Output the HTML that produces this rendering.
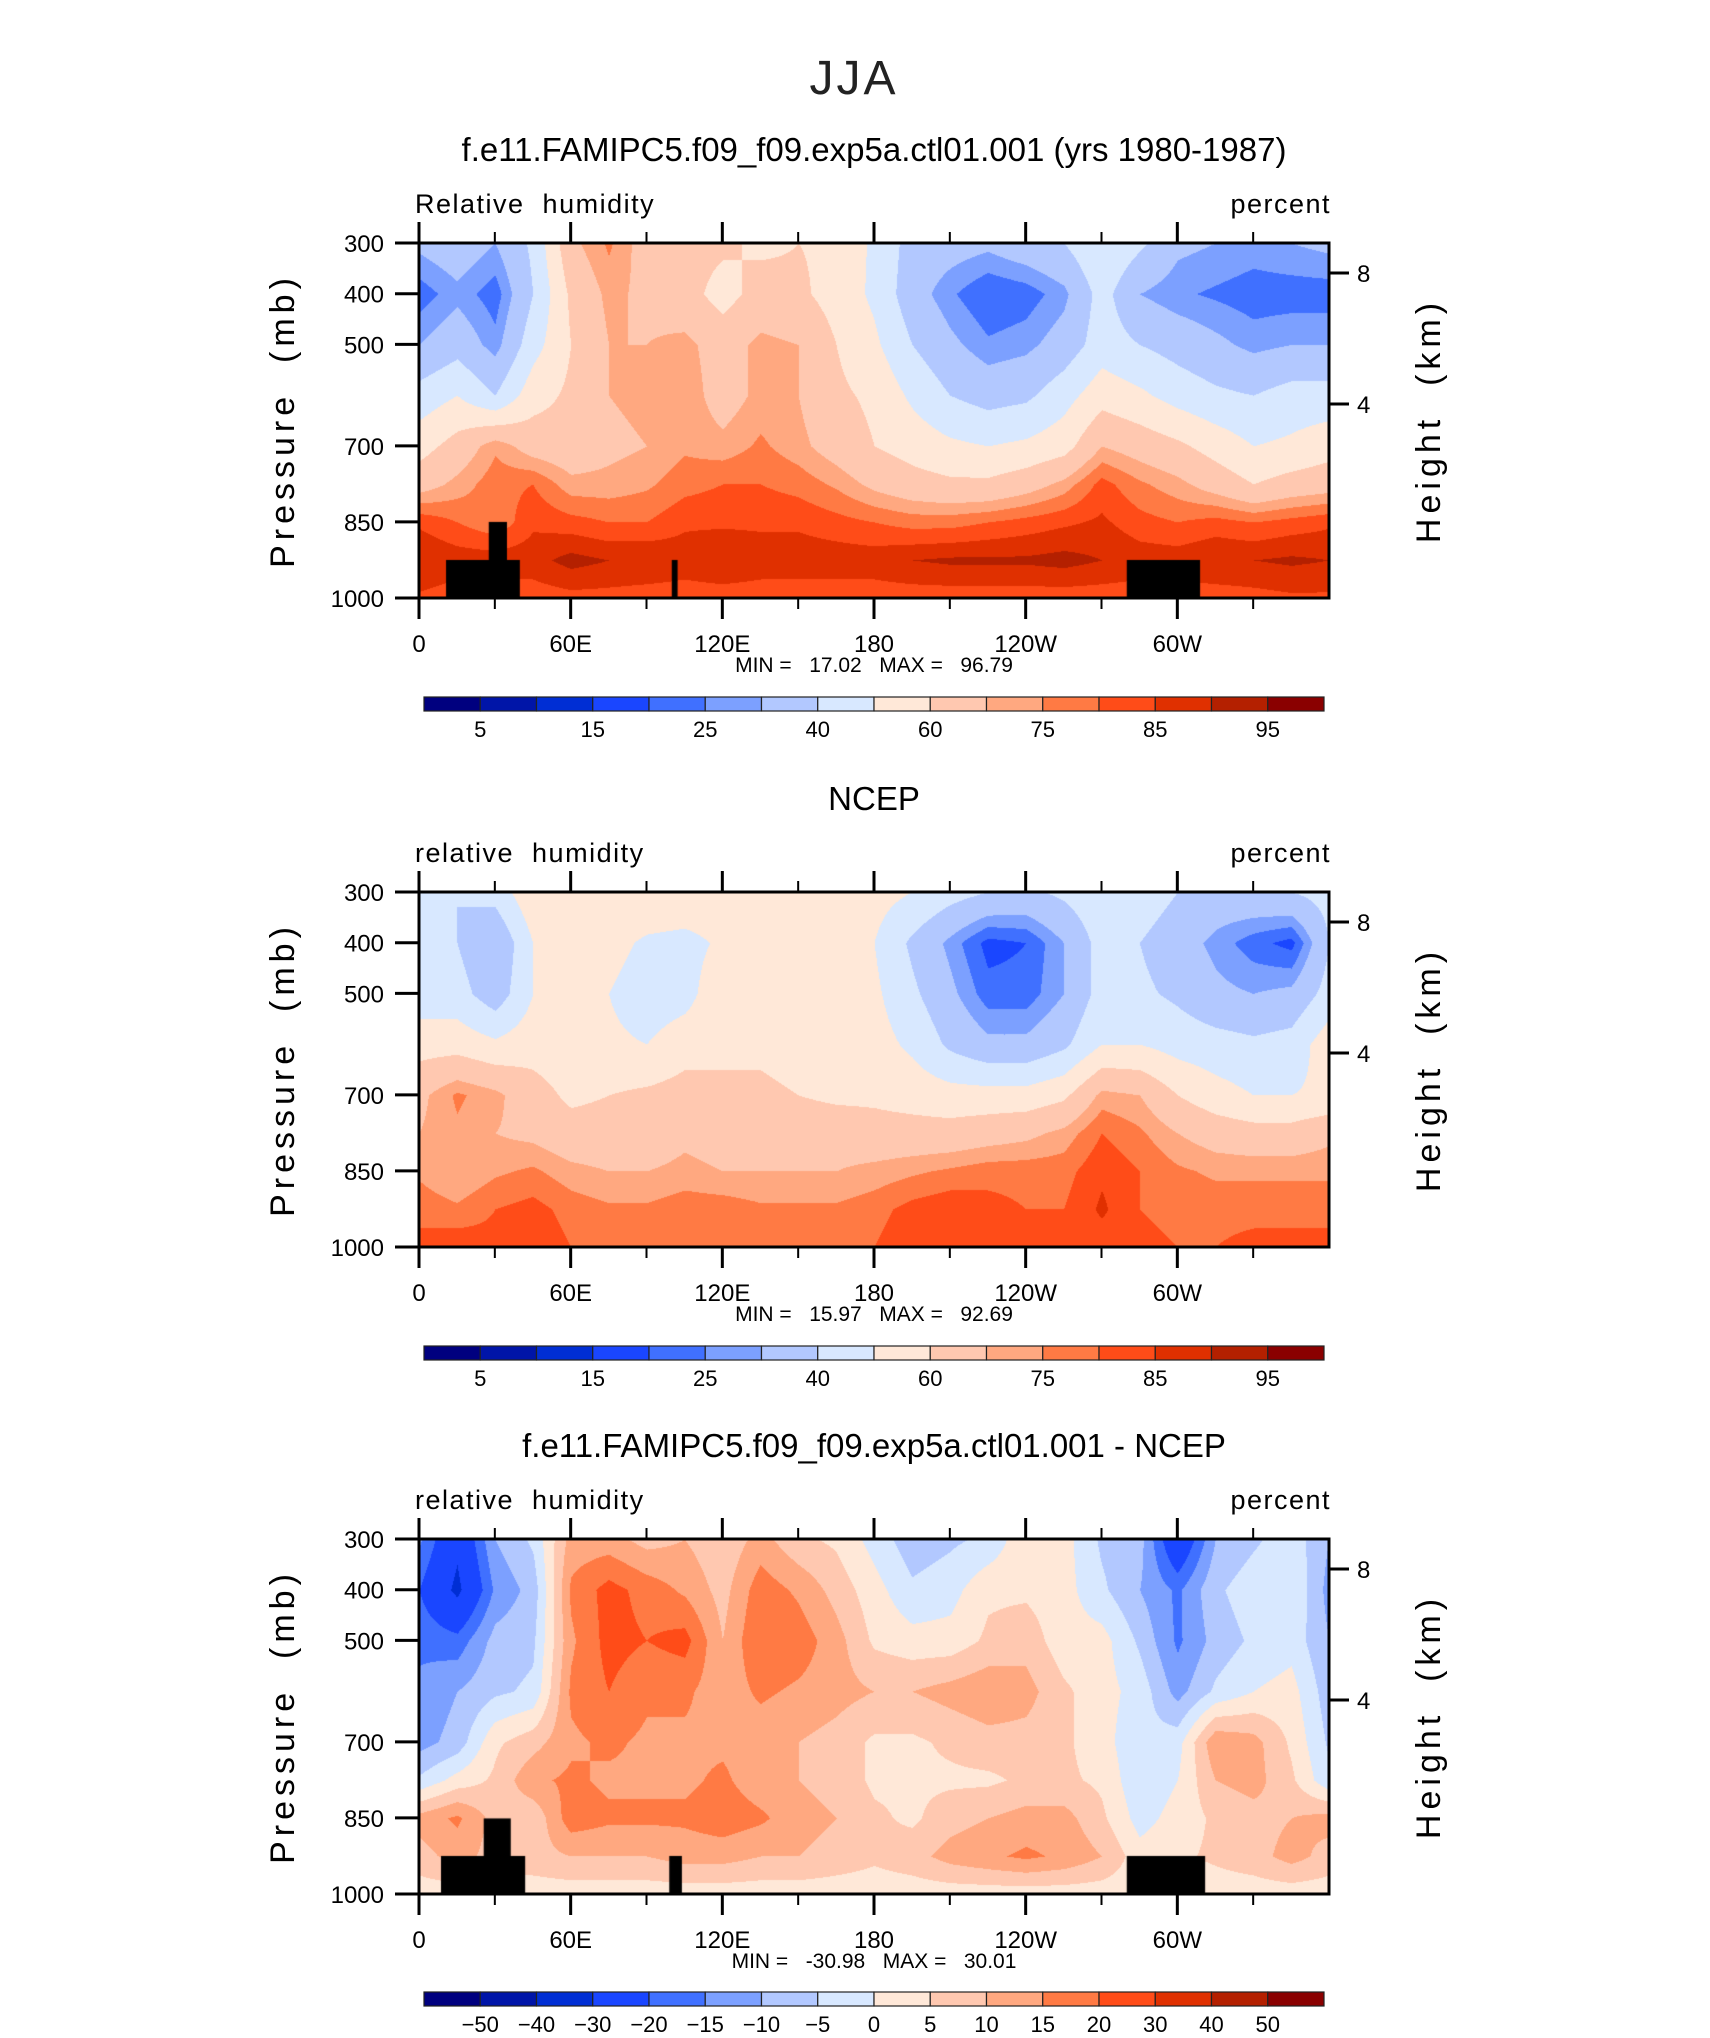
<!DOCTYPE html>
<html><head><meta charset="utf-8">
<style>
html,body{margin:0;padding:0;background:#fff;}
#root{position:relative;width:1710px;height:2038px;overflow:hidden;font-family:"Liberation Sans",sans-serif;}
canvas{position:absolute;}
svg{position:absolute;left:0;top:0;}
svg text{white-space:pre;}
</style></head>
<body>
<div id="root">
<canvas id="c0" width="910" height="355" style="left:419px;top:243px"></canvas>
<canvas id="c1" width="910" height="355" style="left:419px;top:892px"></canvas>
<canvas id="c2" width="910" height="355" style="left:419px;top:1539px"></canvas>
<svg id="ov" width="1710" height="2038"></svg>
</div>
<script>
const lons=[0,15,30,45,60,75,90,105,120,135,150,165,180,195,210,225,240,255,270,285,300,315,330,345,360];
const pres=[300,400,500,600,700,775,850,925,1000];
const modelRH=[
[32,36,30,42,68,76,66,64,62,58,60,58,48,36,34,32,36,40,50,42,32,30,28,30,32],
[22,28,22,40,62,72,68,64,56,64,62,56,48,34,26,20,22,28,44,30,26,24,22,22,22],
[30,36,27,46,60,70,70,72,66,72,70,60,52,40,32,26,28,34,45,40,36,32,28,30,30],
[44,50,40,56,62,70,72,74,66,72,70,62,58,48,40,36,38,46,56,52,46,42,40,44,44],
[56,64,74,66,64,68,70,74,72,76,72,66,60,56,52,50,52,56,70,66,62,56,50,52,56],
[66,72,78,80,72,72,74,78,80,80,78,74,68,64,62,62,66,72,82,76,72,66,60,64,66],
[84,80,76,84,82,80,80,84,84,84,84,82,80,78,78,80,82,84,86,82,80,82,80,82,84],
[90,88,88,88,92,90,90,88,90,88,88,88,88,90,91,91,91,92,90,88,88,90,90,91,90],
[84,82,82,82,83,83,82,82,82,82,82,82,82,82,82,82,82,82,82,82,82,82,83,84,84]];
const ncepRH=[
[44,40,44,58,60,58,60,60,58,58,56,56,54,50,44,40,38,42,48,46,40,36,38,40,44],
[40,40,30,50,56,54,48,46,52,56,54,54,50,38,28,18,20,30,44,40,34,28,22,18,40],
[44,44,34,50,54,50,44,46,58,58,56,56,52,42,32,22,22,30,44,42,38,32,30,32,44],
[56,56,52,56,54,52,50,56,58,58,56,56,54,48,38,32,32,38,50,50,46,44,42,44,56],
[68,76,72,64,58,60,62,64,62,62,60,58,58,56,54,54,54,58,72,70,60,54,50,50,52],
[70,74,70,68,64,64,64,68,66,66,66,66,64,64,64,66,68,72,80,76,70,66,64,64,68],
[74,70,74,76,72,70,70,72,70,70,70,70,72,74,76,78,78,78,84,80,76,74,74,74,74],
[78,76,80,82,78,76,76,78,78,76,76,76,78,82,84,82,80,80,86,80,78,78,78,78,78],
[82,84,82,84,80,78,78,80,78,78,78,78,80,84,84,84,82,82,82,82,80,80,82,82,82]];
const diffRH=[
[-14,-28,-10,-4,12,12,8,10,6,12,6,4,-2,-8,-6,-4,4,2,-6,-8,-28,-10,-6,-2,-10],
[-20,-32,-14,-8,16,22,18,14,8,18,14,8,2,-4,-2,4,4,2,-4,-10,-16,-6,-2,0,-12],
[-16,-18,-8,-6,14,22,20,22,10,20,18,12,4,2,2,6,8,2,2,-6,-16,-8,-4,-2,-10],
[-14,-10,-6,-4,16,20,16,16,12,16,14,12,10,10,12,14,12,6,2,-2,-12,-4,0,2,-8],
[-12,-8,4,8,14,16,14,14,14,12,10,8,4,4,6,8,8,6,2,-4,-2,14,12,4,-6],
[-4,2,6,14,16,14,14,14,16,12,10,8,4,4,4,4,6,6,4,-4,0,10,12,6,-4],
[12,16,8,6,18,16,16,16,18,16,12,10,6,4,8,10,12,12,6,-2,2,6,8,10,12],
[8,12,8,8,10,10,10,12,12,10,10,8,6,8,12,14,16,14,10,2,4,6,8,12,8],
[2,2,2,2,2,2,2,2,2,2,2,2,2,2,2,2,2,2,2,2,2,2,2,2,2]];
const rhLevels=[5,10,15,20,25,30,40,50,60,70,75,80,85,90,95];
const diffLevels=[-50,-40,-30,-20,-15,-10,-5,0,5,10,15,20,30,40,50];
const rhLabels=["5","15","25","40","60","75","85","95"];
const diffLabels=["-50","-40","-30","-20","-15","-10","-5","0","5","10","15","20","30","40","50"];
const xTickLabels=["0","60E","120E","180","120W","60W"];
const yTickP=[300,400,500,700,850,1000];
const heightTicks=[8,4];
const minMax=[["17.02","96.79"],["15.97","92.69"],["-30.98","30.01"]];
const terrain1=[[10.7,39.9,925],[27.6,34.8,850],[100,102.3,925],[280,309,925]];
const terrain3=[[8.7,42,925],[25.6,36.3,851],[99,104,925],[280,311,925]];
const palette=["#00007f","#0015a8","#002ed4","#1a46ff","#4070ff","#7ca0ff","#b2c8ff","#d8e8ff","#ffe8d8","#ffc8b0","#ffa880","#ff7a44","#ff4c18","#e03000","#b42000","#8a0000"];

const PL=419,PW=910,PH=355;
const tops=[243,892,1539];
const xOf=lon=>lon/360*PW;
const yOf=p=>(p-300)/700*PH;
function hex(c){return [parseInt(c.slice(1,3),16),parseInt(c.slice(3,5),16),parseInt(c.slice(5,7),16)];}
const palRGB=palette.map(hex);
function interp(grid,lon,p){
  let i=0;while(i<lons.length-2&&lon>lons[i+1])i++;
  let j=0;while(j<pres.length-2&&p>pres[j+1])j++;
  const tx=(lon-lons[i])/(lons[i+1]-lons[i]),ty=(p-pres[j])/(pres[j+1]-pres[j]);
  const a=grid[j][i],b=grid[j][i+1],c=grid[j+1][i],d=grid[j+1][i+1];
  return a*(1-tx)*(1-ty)+b*tx*(1-ty)+c*(1-tx)*ty+d*tx*ty;
}
function draw(id,grid,levels,terrain){
  const cv=document.getElementById(id),ctx=cv.getContext('2d');
  const img=ctx.createImageData(PW,PH);
  for(let y=0;y<PH;y++){const p=300+y/PH*700;
    for(let x=0;x<PW;x++){const lon=x/PW*360;const v=interp(grid,lon,p);
      let k=0;while(k<levels.length&&v>=levels[k])k++;
      const c=palRGB[k],o=(y*PW+x)*4;img.data[o]=c[0];img.data[o+1]=c[1];img.data[o+2]=c[2];img.data[o+3]=255;}}
  ctx.putImageData(img,0,0);
  ctx.fillStyle="#000";
  terrain.forEach(t=>{const x0=xOf(t[0]),x1=xOf(t[1]),y0=yOf(t[2]);ctx.fillRect(x0,y0,x1-x0,PH-y0);});
}
draw('c0',modelRH,rhLevels,terrain1);
draw('c1',ncepRH,rhLevels,[]);
draw('c2',diffRH,diffLevels,terrain3);

const NS="http://www.w3.org/2000/svg";const ov=document.getElementById('ov');
function el(tag,attrs,txt){const e=document.createElementNS(NS,tag);for(const k in attrs)e.setAttribute(k,attrs[k]);if(txt!==undefined)e.textContent=txt;ov.appendChild(e);return e;}
let t=el('text',{x:854,y:94,'font-size':48,'text-anchor':'middle',fill:'#222','letter-spacing':'3'},'JJA');


const subtitles=["f.e11.FAMIPC5.f09_f09.exp5a.ctl01.001 (yrs 1980-1987)","NCEP","f.e11.FAMIPC5.f09_f09.exp5a.ctl01.001 - NCEP"];
const leftStr=["Relative  humidity","relative  humidity","relative  humidity"];
const cbTops=[697,1346,1992];
for(let k=0;k<3;k++){
  const T=tops[k];
  t=el('text',{x:874,y:T-82,'font-size':33,'text-anchor':'middle',fill:'#000'},subtitles[k]);
  
  
  t=el('text',{x:415,y:T-30,'font-size':27,fill:'#000','letter-spacing':'1.5'},leftStr[k]);
  
  
  t=el('text',{x:1331,y:T-30,'font-size':27,fill:'#000','text-anchor':'end','letter-spacing':'1.5'},'percent');
  
  
  const fr=el('rect',{x:PL,y:T,width:PW,height:PH,fill:'none',stroke:'#000','stroke-width':3});
  
  
  for(let lon=0;lon<=330;lon+=30){const x=PL+xOf(lon);const major=lon%60===0;const L=major?21:11;
    el('line',{x1:x,y1:T,x2:x,y2:T-L,stroke:'#000','stroke-width':major?3:2});
    el('line',{x1:x,y1:T+PH,x2:x,y2:T+PH+L,stroke:'#000','stroke-width':major?3:2});}
  xTickLabels.forEach((s,i)=>{t=el('text',{x:PL+xOf(i*60),y:T+PH+54,'font-size':24,'text-anchor':'middle',fill:'#000'},s);
    
    });
  yTickP.forEach(p=>{const y=T+yOf(p);el('line',{x1:PL-24,y1:y,x2:PL,y2:y,stroke:'#000','stroke-width':3});
    t=el('text',{x:PL-35,y:y+9,'font-size':24,'text-anchor':'end',fill:'#000'},String(p));
    
    });
  heightTicks.forEach(h=>{const y=T+(h===8?30:161);el('line',{x1:PL+PW,y1:y,x2:PL+PW+20,y2:y,stroke:'#000','stroke-width':3});
    t=el('text',{x:PL+PW+28,y:y+9,'font-size':24,fill:'#000'},String(h));
    
    });
  t=el('text',{x:0,y:0,'font-size':34,'text-anchor':'middle',fill:'#000','letter-spacing':'5',transform:`translate(294,${T+PH/2}) rotate(-90)`},'Pressure  (mb)');
  
  
  t=el('text',{x:0,y:0,'font-size':34,'text-anchor':'middle',fill:'#000','letter-spacing':'5',transform:`translate(1440,${T+PH/2}) rotate(-90)`},'Height  (km)');
  
  
  t=el('text',{x:874,y:T+PH+74,'font-size':21,'text-anchor':'middle',fill:'#000'},`MIN =   ${minMax[k][0]}   MAX =   ${minMax[k][1]}`);
  
  
  const cy=cbTops[k],cx=424,bw=900/16;
  for(let i=0;i<16;i++){const r=el('rect',{x:cx+i*bw,y:cy,width:bw,height:14,fill:palette[i],stroke:'#222','stroke-width':1.2});
    
    }
  if(k<2){rhLabels.forEach((s,i)=>{t=el('text',{x:cx+(2*i+1)*bw,y:cy+40,'font-size':22,'text-anchor':'middle',fill:'#000'},s);
      
      });}
  else{diffLabels.forEach((s,i)=>{t=el('text',{x:cx+(i+1)*bw,y:cy+40,'font-size':22,'text-anchor':'middle',fill:'#000'},s.replace('-','\u2212'));
      
      });}
}
</script>
</body></html>
